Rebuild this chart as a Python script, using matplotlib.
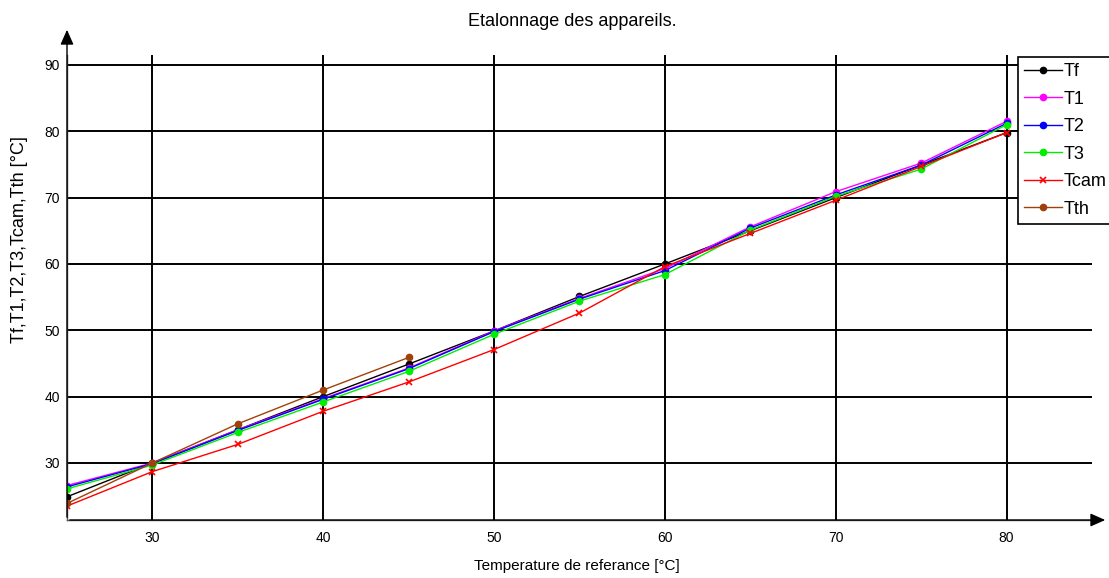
import numpy as np
import matplotlib
matplotlib.use("Agg")
import matplotlib.pyplot as plt

plt.rcParams['font.family'] = ['Liberation Sans', 'DejaVu Sans']

x_ref = [25, 30, 35, 40, 45, 50, 55, 60, 65, 70, 75, 80]
Tf   = [24.9, 30.0, 35.0, 40.0, 44.9, 49.9, 55.1, 60.0, 65.0, 70.0, 74.9, 79.8]
T1   = [26.6, 30.0, 35.0, 39.7, 44.3, 49.9, 54.8, 59.3, 65.6, 70.9, 75.2, 81.5]
T2   = [26.4, 29.9, 34.9, 39.6, 44.2, 49.8, 54.7, 59.0, 65.4, 70.4, 74.9, 81.2]
T3   = [26.1, 29.7, 34.6, 39.2, 43.8, 49.4, 54.4, 58.4, 65.1, 70.2, 74.3, 81.0]
Tcam = [23.5, 28.7, 32.8, 37.8, 42.2, 47.1, 52.6, 59.6, 64.6, 69.6, 74.7, 79.8]
x_th = [25, 30, 35, 40, 45]
Tth  = [23.9, 30.0, 35.9, 41.0, 45.9]

series = [
    ("Tf", x_ref, Tf, "#000000", "o"),
    ("T1", x_ref, T1, "#ff00ff", "o"),
    ("T2", x_ref, T2, "#0000ff", "o"),
    ("T3", x_ref, T3, "#00ee00", "o"),
    ("Tcam", x_ref, Tcam, "#ff0000", "x"),
    ("Tth", x_th, Tth, "#a0400a", "o"),
]

xticks = [30, 40, 50, 60, 70, 80]
yticks = [30, 40, 50, 60, 70, 80, 90]

W, H = 1109, 578
fig = plt.figure(figsize=(W / 100, H / 100), dpi=100)
L, R, B, T = 67, 1092, 520, 55
ax = fig.add_axes([L / W, 1 - B / H, (R - L) / W, (B - T) / H])

for name, xs, ys, c, m in series:
    if m == "x":
        ax.plot(xs, ys, color=c, lw=1.0, marker="x", ms=5, mew=1.2, label=name, zorder=3)
    else:
        ax.plot(xs, ys, color=c, lw=1.0, marker="o", ms=4.5, label=name, zorder=3)

ax.set_xlim(25, 85)
ax.set_ylim(21.4, 91.5)
ax.set_xticks(xticks)
ax.set_yticks(yticks)
ax.grid(True, color="black", lw=1.4)
ax.set_axisbelow(True)
ax.tick_params(length=0, labelsize=10, pad=5)
ax.tick_params(axis="x", pad=8)
for s in ["top", "right"]:
    ax.spines[s].set_visible(False)
for s in ["left", "bottom"]:
    ax.spines[s].set_color("#555555")
    ax.spines[s].set_linewidth(1.0)

# arrows on axes
fig.patches.append(matplotlib.patches.FancyArrowPatch(
    (L / W, 1 - B / H), (1108 / W, 1 - B / H), transform=fig.transFigure,
    arrowstyle="-|>,head_length=4.5,head_width=2", color="black", lw=1.0, mutation_scale=2))
fig.patches.append(matplotlib.patches.FancyArrowPatch(
    (L / W, 1 - B / H), (L / W, 1 - 27 / H), transform=fig.transFigure,
    arrowstyle="-|>,head_length=4.5,head_width=2", color="black", lw=1.0, mutation_scale=2))

fig.text(572 / W, 1 - 22 / H, "Etalonnage des appareils.", ha="center", va="center", fontsize=13)
fig.text(577 / W, 1 - 566 / H, "Temperature de referance [°C]", ha="center", va="center", fontsize=11)
fig.text(20 / W, 1 - 240 / H, "Tf,T1,T2,T3,Tcam,Tth [°C]", ha="center", va="center",
         rotation=90, fontsize=13)

leg = ax.legend(loc="upper left", bbox_to_anchor=(1018 / W, 1 - 57 / H),
                bbox_transform=fig.transFigure, borderaxespad=0, fancybox=False,
                framealpha=1, edgecolor="black", fontsize=13, handlelength=2.1,
                labelspacing=0.58, handletextpad=0.1, borderpad=0.35)
leg.get_frame().set_linewidth(1.2)

fig.savefig("out.png", dpi=100)
